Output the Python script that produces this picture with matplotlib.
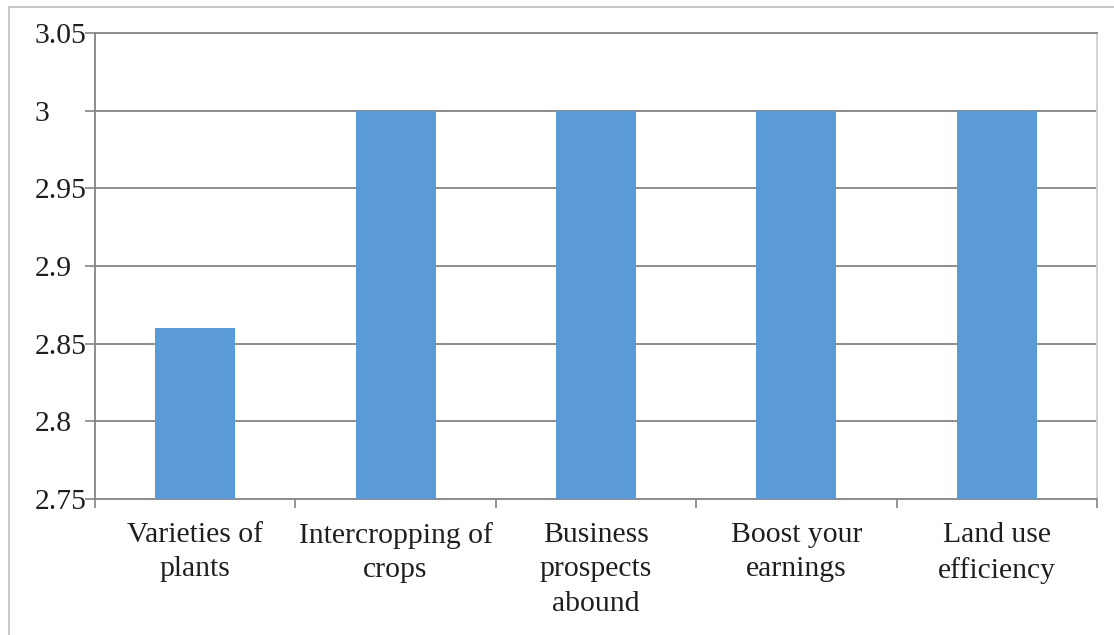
import matplotlib
matplotlib.use("Agg")
import matplotlib.pyplot as plt
from matplotlib.patches import Rectangle
from matplotlib.ticker import FixedLocator, NullFormatter

categories = ["Varieties of\nplants", "Intercropping of\ncrops", "Business\nprospects\nabound",
              "Boost your\nearnings", "Land use\nefficiency"]
values = [2.86, 3.0, 3.0, 3.0, 3.0]
yticks = [2.75, 2.8, 2.85, 2.9, 2.95, 3.0, 3.05]
ytick_labels = ["2.75", "2.8", "2.85", "2.9", "2.95", "3", "3.05"]

plt.rcParams['font.family'] = ['Liberation Serif', 'DejaVu Serif']
fs = 21.3
grid_c = "#858585"
text_c = "#1e1e1e"
px = 0.72  # points per pixel at dpi 100

fig = plt.figure(figsize=(11.14, 6.35), dpi=100)
# outer chart border (cut off at right and bottom)
fig.patches.append(Rectangle((9/1114, -0.05), 1.2, 1 - 7/635 + 0.05, transform=fig.transFigure,
                             fill=False, edgecolor="#c4c4c4", linewidth=1.3))

ax = fig.add_axes([95/1114, 1 - 499/635, (1097 - 95)/1114, (499 - 33)/635])
x = list(range(len(categories)))
ax.bar(x, values, width=0.4, color="#5B9BD5", zorder=3)
ax.set_xlim(-0.5, len(categories) - 0.5)
ax.set_ylim(2.75, 3.05)

ax.set_yticks(yticks)
ax.set_yticklabels(ytick_labels, fontsize=fs, color=text_c, ha='left')
ax.tick_params(axis='y', length=10*px, width=1.2, color=grid_c, pad=50*px)
for g in yticks[1:-1]:
    ax.axhline(g, color=grid_c, linewidth=1.3, zorder=1)

ax.xaxis.set_major_locator(FixedLocator([i - 0.5 for i in range(len(categories) + 1)]))
ax.xaxis.set_major_formatter(NullFormatter())
ax.xaxis.set_minor_locator(FixedLocator(x))
ax.set_xticklabels(categories, minor=True, fontsize=fs, color=text_c, linespacing=1.42, va='top')
ax.tick_params(axis='x', which='major', length=9*px, width=1.2, color=grid_c)
ax.tick_params(axis='x', which='minor', length=0, pad=23*px)

for s in ['left', 'bottom', 'top']:
    ax.spines[s].set_color(grid_c)
    ax.spines[s].set_linewidth(1.3)
ax.spines['right'].set_color("#d0d0d0")
ax.spines['right'].set_linewidth(1.3)

fig.savefig("out.png", dpi=100)
